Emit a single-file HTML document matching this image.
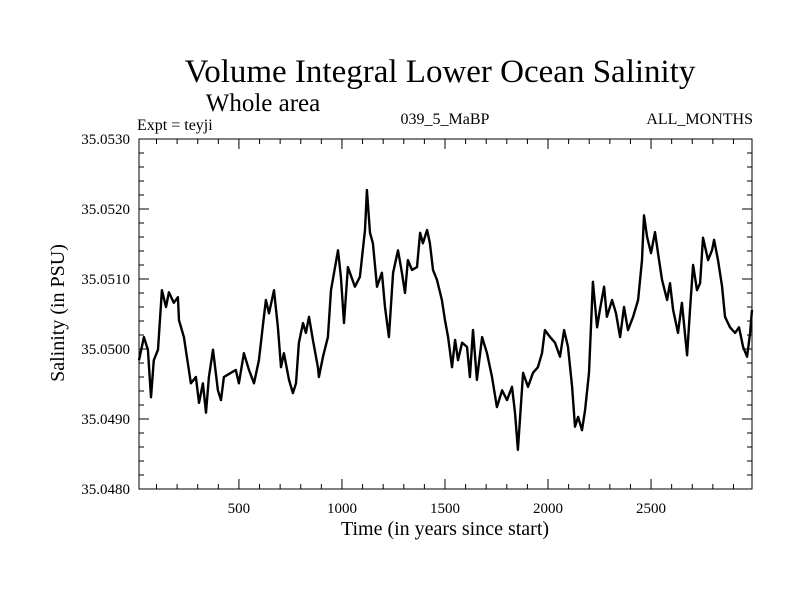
<!DOCTYPE html>
<html><head><meta charset="utf-8"><style>
body{margin:0;background:#fff}
svg{display:block;font-family:"Liberation Serif",serif}
</style></head><body>
<svg id="chart" width="800" height="600" viewBox="0 0 800 600" xmlns="http://www.w3.org/2000/svg">
<rect width="800" height="600" fill="#fff"/>
<text x="440" y="82" font-size="33" text-anchor="middle">Volume Integral Lower Ocean Salinity</text>
<text x="263" y="111" font-size="25" text-anchor="middle">Whole area</text>
<text x="137" y="130" font-size="16">Expt = teyji</text>
<text x="445" y="124" font-size="16" text-anchor="middle">039_5_MaBP</text>
<text x="753" y="124" font-size="16" text-anchor="end">ALL_MONTHS</text>
<text x="445" y="535" font-size="20" text-anchor="middle">Time (in years since start)</text>
<text x="0" y="0" font-size="20" text-anchor="middle" transform="translate(64,313) rotate(-90)">Salinity (in PSU)</text>
<g id="ticks"></g>
<g id="labels"></g>
<path id="series" fill="none" stroke="#000" stroke-width="2.4" stroke-linejoin="round"/>
<rect x="139" y="139" width="613" height="350" fill="none" stroke="#000" stroke-width="1"/>
</svg>
<script>
const years=[15,39,58,73,87,107,126,146,160,184,204,209,233,252,267,291,306,325,340,354,374,398,413,427,461,485,500,524,549,573,597,621,631,646,670,689,704,718,743,762,777,791,811,825,840,859,883,888,908,932,947,981,995,1010,1029,1063,1087,1112,1121,1136,1150,1170,1194,1209,1228,1248,1272,1291,1306,1320,1340,1364,1379,1393,1413,1427,1442,1461,1485,1500,1515,1534,1549,1563,1583,1607,1621,1636,1655,1680,1704,1728,1752,1777,1801,1825,1840,1854,1879,1903,1927,1951,1971,1985,2010,2034,2058,2078,2097,2117,2131,2146,2165,2180,2199,2218,2238,2252,2272,2286,2311,2330,2350,2369,2388,2413,2437,2456,2466,2481,2500,2519,2534,2553,2578,2592,2607,2631,2650,2675,2689,2704,2723,2738,2752,2777,2796,2806,2825,2845,2859,2883,2908,2927,2947,2966,2981,2990];
const salinity=[35.04984,35.05017,35.04999,35.04931,35.04984,35.04999,35.05084,35.0506,35.05081,35.05066,35.05074,35.05041,35.05017,35.0498,35.04951,35.0496,35.04923,35.04951,35.04909,35.0496,35.04999,35.04941,35.04927,35.0496,35.04966,35.0497,35.04951,35.04994,35.0497,35.04951,35.04984,35.05046,35.0507,35.05051,35.05084,35.05031,35.04974,35.04994,35.04956,35.04937,35.04951,35.05009,35.05037,35.05023,35.05046,35.05013,35.04974,35.0496,35.04989,35.05017,35.05084,35.05141,35.05103,35.05037,35.05117,35.05089,35.05103,35.0517,35.05227,35.05166,35.05151,35.05089,35.05109,35.0506,35.05017,35.05109,35.05141,35.05109,35.0508,35.05127,35.05113,35.05117,35.05166,35.05151,35.0517,35.05151,35.05113,35.05099,35.0507,35.05041,35.05017,35.04974,35.05013,35.04984,35.05009,35.05003,35.0496,35.05027,35.04956,35.05017,35.04994,35.0496,35.04917,35.04941,35.04927,35.04946,35.04909,35.04856,35.04966,35.04946,35.04966,35.04974,35.04994,35.05027,35.05017,35.05009,35.04989,35.05027,35.05003,35.04946,35.04889,35.04903,35.04884,35.04913,35.04966,35.05096,35.05031,35.05056,35.05089,35.05046,35.0507,35.05051,35.05017,35.0506,35.05027,35.05046,35.0507,35.05127,35.05191,35.0516,35.05137,35.05167,35.05137,35.05099,35.0507,35.05094,35.05056,35.05023,35.05066,35.04991,35.05056,35.0512,35.05084,35.05094,35.05159,35.05127,35.05141,35.05156,35.05127,35.05089,35.05046,35.05031,35.05023,35.05031,35.05003,35.04989,35.05023,35.05056];
const xTickLabels=[500,1000,1500,2000,2500];
const yTickLabels=["35.0480","35.0490","35.0500","35.0510","35.0520","35.0530"];
const XMIN=15,XMAX=2990,YMIN=35.048,YMAX=35.053;
const L=139,R=752,T=139,B=489;
const sx=v=>L+(v-XMIN)/(XMAX-XMIN)*(R-L);
const sy=v=>B-(v-YMIN)/(YMAX-YMIN)*(B-T);
const NS="http://www.w3.org/2000/svg";
let d="";
years.forEach((y,i)=>{d+=(i?"L":"M")+sx(y).toFixed(1)+","+sy(salinity[i]).toFixed(1);});
document.getElementById("series").setAttribute("d",d);
const tg=document.getElementById("ticks"),lg=document.getElementById("labels");
function line(x1,y1,x2,y2){const l=document.createElementNS(NS,"line");
l.setAttribute("x1",x1);l.setAttribute("y1",y1);l.setAttribute("x2",x2);l.setAttribute("y2",y2);
l.setAttribute("stroke","#000");l.setAttribute("stroke-width","1");


tg.appendChild(l);}
for(let v=100;v<XMAX;v+=100){const x=sx(v),len=v%500===0?10:5;line(x,B,x,B-len);line(x,T,x,T+len);}
for(let k=0;k<=25;k++){const v=YMIN+k*0.0002,y=sy(v),len=k%5===0?10:5;line(L,y,L+len,y);line(R,y,R-len,y);}
xTickLabels.forEach(v=>{const t=document.createElementNS(NS,"text");
t.setAttribute("x",sx(v));t.setAttribute("y",B+24);t.setAttribute("font-size","15");t.setAttribute("text-anchor","middle");


t.textContent=v;lg.appendChild(t);});
yTickLabels.forEach(s=>{const t=document.createElementNS(NS,"text");
t.setAttribute("x",L-9);t.setAttribute("y",sy(parseFloat(s))+5);t.setAttribute("font-size","15");t.setAttribute("text-anchor","end");


t.textContent=s;lg.appendChild(t);});
</script>
</body></html>
